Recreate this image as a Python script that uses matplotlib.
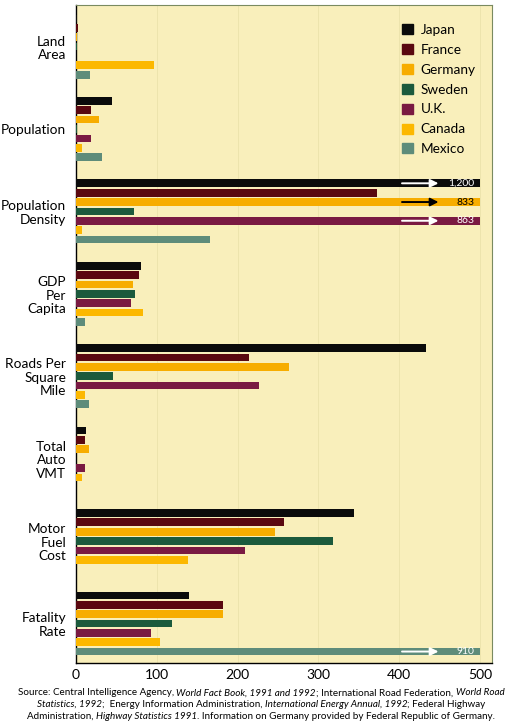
import matplotlib
matplotlib.use('Agg')
import matplotlib.pyplot as plt
import numpy as np
from matplotlib.offsetbox import TextArea, HPacker, AnchoredOffsetbox
from matplotlib.patches import Patch

# categories (top to bottom) and countries (order within each group)
categories = ['Land\nArea', 'Population', 'Population\nDensity', 'GDP\nPer\nCapita',
              'Roads Per\nSquare\nMile', 'Total\nAuto\nVMT', 'Motor\nFuel\nCost', 'Fatality\nRate']
countries = ['Japan', 'France', 'Germany', 'Sweden', 'U.K.', 'Canada', 'Mexico']

# values per country, one entry per category (index relative to U.S. = 100)
japan   = [1.5, 44, 1200, 81, 433, 13, 344, 140]
france  = [3, 19, 372, 78, 214, 11, 258, 182]
germany = [1, 28, 833, 70, 263, 16, 246, 182]
sweden  = [1.5, 1, 72, 73, 46, 0, 318, 119]
uk      = [0.5, 19, 863, 68, 226, 11, 209, 93]
canada  = [97, 7, 7, 83, 11, 7, 139, 104]
mexico  = [17, 32, 166, 11, 16, 0, 0, 910]

colors = ['#0b0b0b', '#5a0810', '#f7ad00', '#1c5a3c', '#7a1a42', '#fcb800', '#5e8c7a']
arrow_colors = {'Germany': 'black'}
cap = 500
xticks = [0, 100, 200, 300, 400, 500]

series = [japan, france, germany, sweden, uk, canada, mexico]
bg = '#f9efbb'

fig = plt.figure(figsize=(5.1, 7.24), dpi=100)
ax = fig.add_axes([0.149, 0.0843, 0.816, 0.9088])
ax.set_facecolor(bg)

group_step = 8.8
bar_h = 0.82
for ci, (name, vals, col) in enumerate(zip(countries, series, colors)):
    vals = np.array(vals, dtype=float)
    ypos = np.arange(len(categories)) * group_step + ci
    shown = np.minimum(vals, cap)
    ax.barh(ypos, shown, height=bar_h, color=col, label=name, zorder=3)
    for y, v in zip(ypos, vals):
        if v > cap:
            ac = arrow_colors.get(name, 'white')
            ax.annotate('', xy=(452, y), xytext=(400, y),
                        arrowprops=dict(arrowstyle='-|>', color=ac, lw=1.4,
                                        mutation_scale=12), zorder=4)
            ax.text(493, y, f'{v:,.0f}', color=ac, fontsize=7.5, ha='right',
                    va='center', family='Lato', zorder=5)

centers = np.arange(len(categories)) * group_step + 3
ax.set_yticks(centers)
ax.set_yticklabels(categories, fontsize=9.8, family='Lato', linespacing=1.15)
ax.set_ylim(7 * group_step + 6 + 1.22, -1.44)
ax.set_xlim(0, 515)
ax.set_xticks(xticks)
ax.set_xticklabels([str(t) for t in xticks], fontsize=10, family='Lato')
ax.tick_params(axis='y', length=0, pad=7)
ax.tick_params(axis='x', length=0, pad=4)
ax.grid(axis='x', color='#ebe2ab', lw=0.6, zorder=0)
for s in ['top', 'right']:
    ax.spines[s].set_color('#7a8a60')
    ax.spines[s].set_linewidth(0.8)
for s in ['left', 'bottom']:
    ax.spines[s].set_color('black')
    ax.spines[s].set_linewidth(1.0)

handles = [Patch(color=c) for c in colors]
ax.legend(handles, countries, loc='upper left', bbox_to_anchor=(0.755, 0.99),
          frameon=False, handlelength=0.75, handleheight=0.75,
          handletextpad=0.6, labelspacing=0.58, prop={'family': 'Lato', 'size': 9.8})

# source note with italic titles
lines = [
    [('Source: Central Intelligence Agency, ', 'normal'), ('World Fact Book, 1991 and 1992', 'italic'),
     ('; International Road Federation, ', 'normal'), ('World Road', 'italic')],
    [('Statistics, 1992', 'italic'), (';  Energy Information Administration, ', 'normal'),
     ('International Energy Annual, 1992', 'italic'), ('; Federal Highway', 'normal')],
    [('Administration, ', 'normal'), ('Highway Statistics 1991', 'italic'),
     ('. Information on Germany provided by Federal Republic of Germany.', 'normal')],
]
line_y = [0.043, 0.027, 0.011]
for segs, yy in zip(lines, line_y):
    boxes = [TextArea(t, textprops=dict(fontsize=7.1, style=st, family='Lato'))
             for t, st in segs]
    pack = HPacker(children=boxes, pad=0, sep=0, align='baseline')
    ab = AnchoredOffsetbox(loc='center', child=pack, pad=0, frameon=False,
                           bbox_to_anchor=(0.512, yy), bbox_transform=fig.transFigure,
                           borderpad=0)
    fig.add_artist(ab)

fig.savefig('out.png', dpi=100, facecolor='white')
